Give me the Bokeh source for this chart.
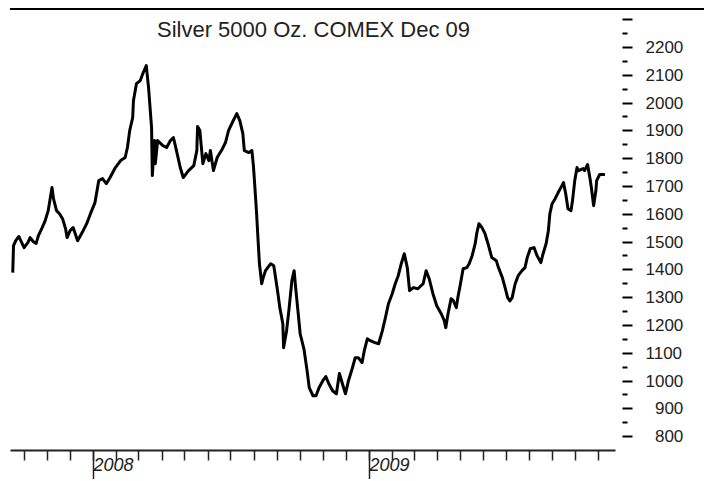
import pandas as pd
from bokeh.plotting import figure
from bokeh.models import Range1d, FixedTicker, Label
from bokeh.embed import file_html
from bokeh.resources import INLINE

# ---- data ----
dates_2007 = ["2007-09-16", "2007-09-17", "2007-09-20", "2007-09-24", "2007-10-01", "2007-10-06",
              "2007-10-09", "2007-10-13", "2007-10-17", "2007-10-20", "2007-10-25", "2007-10-29",
              "2007-11-02", "2007-11-07", "2007-11-09", "2007-11-13", "2007-11-17", "2007-11-21",
              "2007-11-25", "2007-11-27", "2007-12-01", "2007-12-05", "2007-12-11", "2007-12-17",
              "2007-12-23", "2007-12-28"]
values_2007 = [1390, 1487, 1505, 1520, 1480, 1498, 1516, 1502, 1495, 1523, 1552, 1577,
               1613, 1696, 1656, 1613, 1602, 1584, 1548, 1516, 1541, 1552, 1505, 1534,
               1566, 1602]

dates_2008 = ["2008-01-03", "2008-01-08", "2008-01-13", "2008-01-18", "2008-01-23", "2008-01-30",
              "2008-02-06", "2008-02-12", "2008-02-15", "2008-02-18", "2008-02-22", "2008-02-23",
              "2008-02-27", "2008-03-03", "2008-03-07", "2008-03-11", "2008-03-14", "2008-03-18",
              "2008-03-19", "2008-03-22", "2008-03-23", "2008-03-26", "2008-04-02", "2008-04-07",
              "2008-04-12", "2008-04-16", "2008-04-20", "2008-04-25", "2008-04-29", "2008-05-06",
              "2008-05-13", "2008-05-17", "2008-05-18", "2008-05-21", "2008-05-25", "2008-05-29",
              "2008-06-02", "2008-06-04", "2008-06-08", "2008-06-13", "2008-06-20", "2008-06-24",
              "2008-06-28", "2008-07-03", "2008-07-09", "2008-07-13", "2008-07-17", "2008-07-19",
              "2008-07-25", "2008-07-29", "2008-07-31", "2008-08-02", "2008-08-04", "2008-08-06",
              "2008-08-08", "2008-08-11", "2008-08-13", "2008-08-16", "2008-08-23", "2008-08-27",
              "2008-09-01", "2008-09-04", "2008-09-08", "2008-09-09", "2008-09-13", "2008-09-16",
              "2008-09-20", "2008-09-23", "2008-09-25", "2008-09-28", "2008-10-01", "2008-10-06",
              "2008-10-10", "2008-10-13", "2008-10-18", "2008-10-22", "2008-10-26", "2008-10-31",
              "2008-11-04", "2008-11-08", "2008-11-13", "2008-11-18", "2008-11-22", "2008-11-26",
              "2008-11-30", "2008-12-04", "2008-12-09", "2008-12-13", "2008-12-17", "2008-12-22",
              "2008-12-25", "2008-12-29"]
values_2008 = [1642, 1721, 1728, 1710, 1732, 1768, 1793, 1804, 1840, 1901,
               1948, 2009, 2070, 2081, 2110, 2135, 2056, 1912, 1739, 1865,
               1782, 1865, 1847, 1840, 1865, 1876, 1829, 1768, 1732, 1757,
               1775, 1829, 1916, 1901, 1782, 1818, 1793, 1829, 1757, 1804,
               1836, 1858, 1901, 1930, 1962, 1937, 1890, 1829, 1822, 1829,
               1775, 1696, 1613, 1516, 1422, 1350, 1372, 1397, 1422, 1415,
               1325, 1264, 1206, 1120, 1181, 1253, 1361, 1397, 1336, 1253,
               1170, 1115, 1040, 976, 947, 947, 976, 1001, 1016, 990,
               965, 954, 1027, 990, 954, 1001, 1045, 1084, 1084, 1066,
               1109, 1152]

dates_2009 = ["2009-01-02", "2009-01-08", "2009-01-13", "2009-01-18", "2009-01-22", "2009-01-26",
              "2009-01-31", "2009-02-04", "2009-02-08", "2009-02-12", "2009-02-16", "2009-02-20",
              "2009-02-23", "2009-02-28", "2009-03-06", "2009-03-13", "2009-03-17", "2009-03-21",
              "2009-03-26", "2009-03-31", "2009-04-06", "2009-04-10", "2009-04-12", "2009-04-15",
              "2009-04-19", "2009-04-22", "2009-04-26", "2009-04-28", "2009-05-01", "2009-05-05",
              "2009-05-10", "2009-05-13", "2009-05-17", "2009-05-21", "2009-05-23", "2009-05-26",
              "2009-05-30", "2009-06-03", "2009-06-07", "2009-06-12", "2009-06-18", "2009-06-20",
              "2009-06-26", "2009-06-30", "2009-07-03", "2009-07-06", "2009-07-09", "2009-07-13",
              "2009-07-17", "2009-07-22", "2009-07-26", "2009-07-29", "2009-08-02", "2009-08-07",
              "2009-08-11", "2009-08-16", "2009-08-19", "2009-08-23", "2009-08-26", "2009-08-28",
              "2009-08-31", "2009-09-04", "2009-09-08", "2009-09-13", "2009-09-15", "2009-09-18",
              "2009-09-21", "2009-09-25", "2009-09-27", "2009-09-30", "2009-10-03", "2009-10-05",
              "2009-10-11", "2009-10-13", "2009-10-17", "2009-10-20", "2009-10-22", "2009-10-25",
              "2009-10-28", "2009-10-29", "2009-11-02", "2009-11-09"]
values_2009 = [1145, 1138, 1134, 1181, 1228, 1278, 1314, 1350, 1379, 1422,
               1458, 1408, 1325, 1336, 1332, 1350, 1397, 1368, 1314, 1271,
               1242, 1217, 1192, 1242, 1296, 1289, 1264, 1300, 1343, 1404,
               1408, 1422, 1451, 1494, 1530, 1566, 1552, 1530, 1494, 1444,
               1433, 1415, 1372, 1332, 1300, 1288, 1300, 1350, 1379, 1397,
               1408, 1444, 1476, 1480, 1451, 1426, 1458, 1494, 1541, 1602,
               1638, 1656, 1678, 1703, 1714, 1674, 1620, 1613, 1649, 1721,
               1768, 1757, 1764, 1757, 1779, 1732, 1696, 1631, 1685, 1721,
               1743, 1743]

title_text = "Silver 5000 Oz. COMEX Dec 09"
year_ticks = ["2008-01-01", "2009-01-01"]
year_labels = ["2008", "2009"]
price_ticks = list(range(800, 2301, 100))
price_minor = list(range(850, 2300, 100))
x_start, x_end = "2007-09-13", "2009-11-23"
y_start, y_end = 750, 2333

# ---- build ----
dates = pd.to_datetime(dates_2007 + dates_2008 + dates_2009)
values = values_2007 + values_2008 + values_2009

def ms(d):
    return pd.Timestamp(d).value / 1e6

month_ticks = [ms(d) for d in pd.date_range("2007-10-01", "2009-11-01", freq="MS")]

p = figure(width=694, height=471, x_axis_type="datetime", y_axis_location="right",
           output_backend="svg", toolbar_location=None,
           x_range=Range1d(pd.Timestamp(x_start), pd.Timestamp(x_end)),
           y_range=Range1d(y_start, y_end),
           min_border_left=0, min_border_top=0, min_border_right=89, min_border_bottom=31)
p.margin = (8, 0, 0, 10)
p.styles = {"border-top": "2px solid black"}
p.outline_line_color = None
p.xgrid.visible = False
p.ygrid.visible = False
p.background_fill_color = "white"
p.border_fill_color = "white"

p.line(dates, values, line_width=3, color="black", line_join="round")

# right price axis
ya = p.yaxis[0]
ya.ticker = FixedTicker(ticks=price_ticks, minor_ticks=price_minor)
ya.major_label_overrides = {2300: "", 900: "\u2007900", 800: "\u2007800"}
ya.axis_line_color = None
ya.major_tick_in = -7
ya.major_tick_out = 17
ya.minor_tick_in = -7
ya.minor_tick_out = 12
ya.major_tick_line_color = "black"
ya.minor_tick_line_color = "black"
ya.major_tick_line_width = 2
ya.minor_tick_line_width = 2
ya.major_label_standoff = 13
ya.major_label_text_font = "Liberation Sans"
ya.major_label_text_font_size = "17px"
ya.major_label_text_color = "#222222"

# bottom date axis
xa = p.xaxis[0]
xa.ticker = FixedTicker(ticks=[ms(d) for d in year_ticks], minor_ticks=month_ticks)
xa.major_label_overrides = {ms(d): lab for d, lab in zip(year_ticks, year_labels)}
xa.axis_line_width = 2
xa.axis_line_color = "#222222"
xa.major_tick_in = 0
xa.major_tick_out = 31
xa.minor_tick_in = 0
xa.minor_tick_out = 10
xa.major_tick_line_color = "#222222"
xa.minor_tick_line_color = "#222222"
xa.major_tick_line_width = 1.5
xa.minor_tick_line_width = 1.5
xa.major_label_orientation = -0.0001   # tiny angle -> labels anchored at their left edge
xa.major_label_standoff = -17
xa.major_label_text_font = "Liberation Sans"
xa.major_label_text_font_style = "italic"
xa.major_label_text_font_size = "18px"
xa.major_label_text_color = "#222222"

p.add_layout(Label(x=303, y=434, x_units="screen", y_units="screen",
                   text=title_text, text_align="center", text_baseline="top",
                   text_font="Liberation Sans", text_font_size="22px",
                   text_color="#222222"))

open("out.html", "w").write(file_html(p, INLINE))
